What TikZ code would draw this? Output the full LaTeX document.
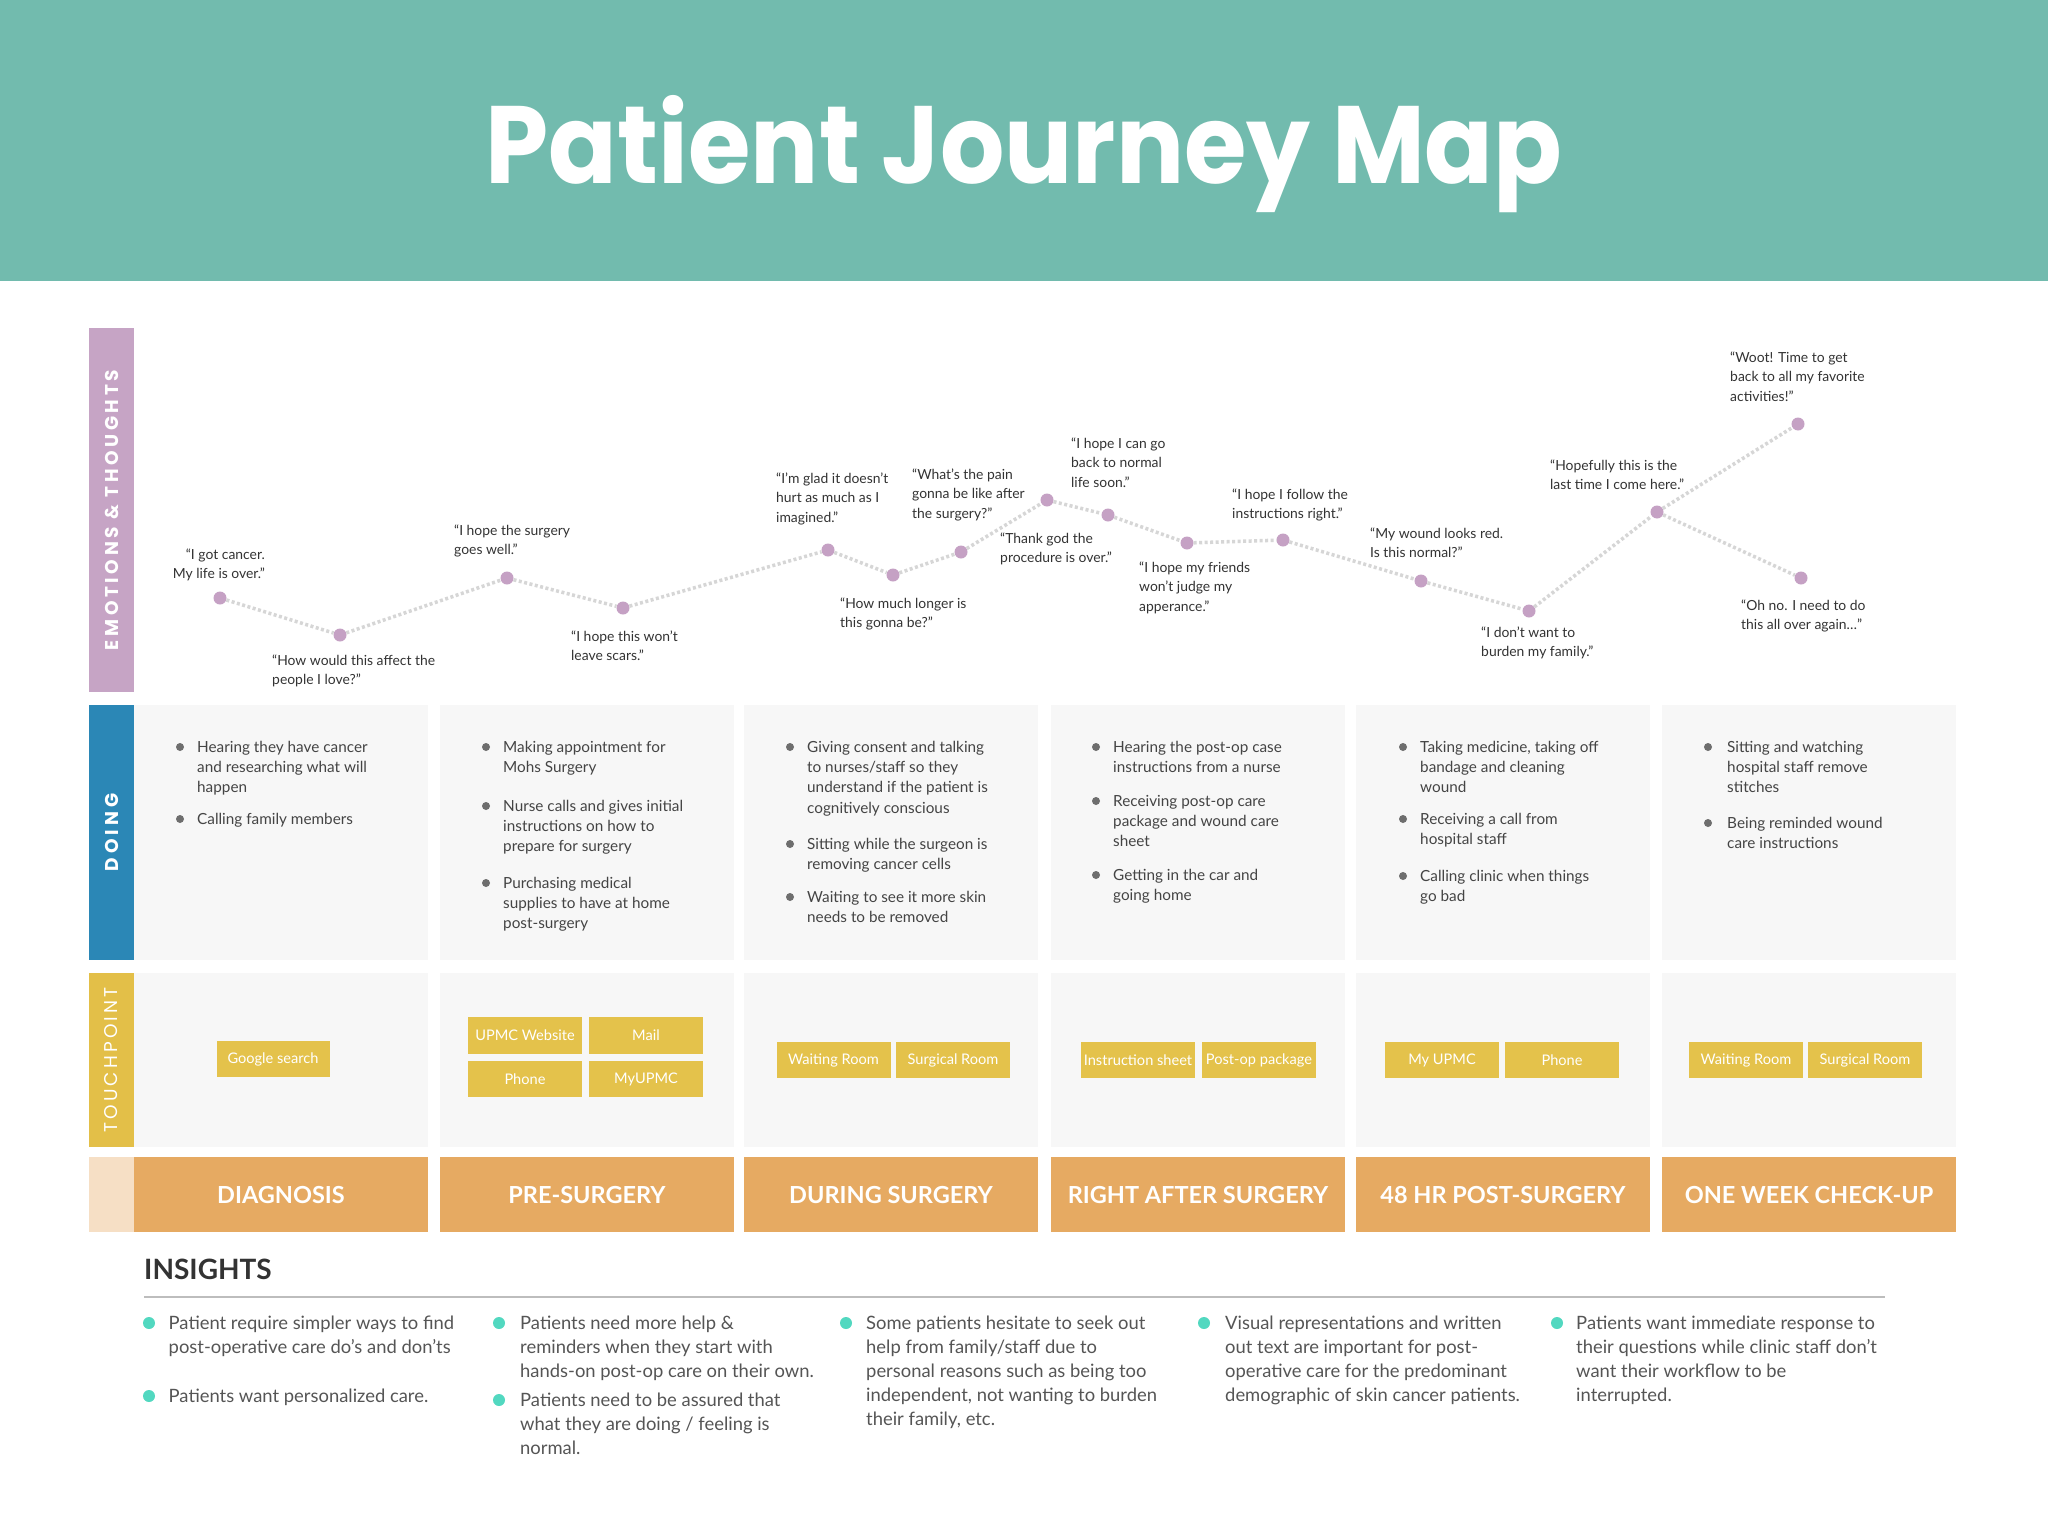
\documentclass[tikz,border=0pt]{standalone}
\usepackage{fontspec}
\setmainfont{Lato}
\newfontfamily\popfont{Poppins}
\definecolor{hdr}{HTML}{72BBAE}
\definecolor{emo}{HTML}{C6A4C5}
\definecolor{doi}{HTML}{2B87B6}
\definecolor{tch}{HTML}{E3BF48}
\definecolor{pale}{HTML}{F6DFC5}
\definecolor{phase}{HTML}{E6AA62}
\definecolor{cellg}{HTML}{F7F7F7}
\definecolor{tpy}{HTML}{E4C24B}
\definecolor{dotp}{HTML}{C5A1C4}
\definecolor{dline}{HTML}{D6D6D6}
\definecolor{tealb}{HTML}{52D8C0}
\definecolor{qtxt}{HTML}{333333}
\definecolor{dtxt}{HTML}{444444}
\definecolor{itxt}{HTML}{555555}
\definecolor{bulg}{HTML}{6E6E6E}
\definecolor{rulec}{HTML}{BDBDBD}
\newcommand{\qt}[1]{\begin{tabular}[t]{@{}l@{}}#1\end{tabular}}
\newcommand{\qtr}[1]{\begin{tabular}[t]{@{}r@{}}#1\end{tabular}}
\tikzset{
  rbox/.style={draw=none, inner sep=0pt, outer sep=0pt, anchor=north west},
  cellbox/.style={rbox, fill=cellg, minimum width=294pt},
  phasebox/.style={rbox, fill=phase, minimum width=294pt, minimum height=75pt},
  phasetxt/.style={text=white, font=\bfseries\fontsize{23.5}{26}\selectfont},
  barlbl/.style={rotate=90, text=white, inner sep=0pt},
  edot/.style={circle, fill=dotp, inner sep=0pt, minimum size=13pt},
  eline/.style={draw=dline, line width=3.5pt, dash pattern=on 3pt off 2.5pt},
  quote/.style={inner sep=0pt, text=qtxt, font=\fontsize{13.9}{19.5}\selectfont, anchor=base west},
  doing/.style={inner sep=0pt, text=dtxt, font=\fontsize{15.3}{20.4}\selectfont, anchor=base west},
  dbul/.style={circle, fill=bulg, inner sep=0pt, minimum size=8pt},
  tp/.style={fill=tpy, text=white, inner sep=0pt, minimum width=114pt, minimum height=36pt, font=\fontsize{14.6}{16}\selectfont},
  ins/.style={inner sep=0pt, text=itxt, font=\fontsize{18.4}{24.2}\selectfont, anchor=base west},
  ibul/.style={circle, fill=tealb, inner sep=0pt, minimum size=12pt}
}
\begin{document}
\begin{tikzpicture}[x=1pt, y=-1pt]
\useasboundingbox (0,0) rectangle (2048,1515);
\fill[white] (0,0) rectangle (2048,1515);
% header
\node[rbox, fill=hdr, minimum width=2048pt, minimum height=281pt] (header) at (0,0) {};
\node[text=white, anchor=base, inner sep=0pt, font={\popfont\bfseries\fontsize{110}{120}\selectfont}] (title) at (1024,183) {\scalebox{0.92}[1]{Patient Journey Map}};

% left label bars
\node[rbox, fill=emo, minimum width=45pt, minimum height=364pt] (lemo) at (89,328) {};
\node[barlbl, font={\popfont\bfseries\fontsize{18.5}{20}\selectfont\addfontfeatures{LetterSpace=19.5}}] (lemot) at (lemo.center) {EMOTIONS \& THOUGHTS};
\node[rbox, fill=doi, minimum width=45pt, minimum height=255pt] (ldo) at (89,705) {};
\node[barlbl, font={\popfont\bfseries\fontsize{18.5}{20}\selectfont\addfontfeatures{LetterSpace=22}}] (ldot) at (ldo.center) {DOING};
\node[rbox, fill=tch, minimum width=45pt, minimum height=174pt] (ltp) at (89,973) {};
\node[barlbl, font={\popfont\fontsize{18.5}{20}\selectfont\addfontfeatures{LetterSpace=17}}] (ltpt) at (ltp.center) {TOUCHPOINT};
\node[rbox, fill=pale, minimum width=45pt, minimum height=75pt] (lph) at (89,1157) {};

% doing cells
\node[cellbox, minimum height=255pt] (d1) at (134,705) {};
\node[cellbox, minimum height=255pt] (d2) at (440,705) {};
\node[cellbox, minimum height=255pt] (d3) at (744,705) {};
\node[cellbox, minimum height=255pt] (d4) at (1051,705) {};
\node[cellbox, minimum height=255pt] (d5) at (1356,705) {};
\node[cellbox, minimum height=255pt] (d6) at (1662,705) {};
% touchpoint cells
\node[cellbox, minimum height=174pt] (t1) at (134,973) {};
\node[cellbox, minimum height=174pt] (t2) at (440,973) {};
\node[cellbox, minimum height=174pt] (t3) at (744,973) {};
\node[cellbox, minimum height=174pt] (t4) at (1051,973) {};
\node[cellbox, minimum height=174pt] (t5) at (1356,973) {};
\node[cellbox, minimum height=174pt] (t6) at (1662,973) {};
% phase boxes
\node[phasebox] (p1) at (134,1157) {};
\node[phasebox] (p2) at (440,1157) {};
\node[phasebox] (p3) at (744,1157) {};
\node[phasebox] (p4) at (1051,1157) {};
\node[phasebox] (p5) at (1356,1157) {};
\node[phasebox] (p6) at (1662,1157) {};
\node[phasetxt] (p1t) at (p1.center) {DIAGNOSIS};
\node[phasetxt] (p2t) at (p2.center) {PRE-SURGERY};
\node[phasetxt] (p3t) at (p3.center) {DURING SURGERY};
\node[phasetxt] (p4t) at (p4.center) {RIGHT AFTER SURGERY};
\node[phasetxt] (p5t) at (p5.center) {48 HR POST-SURGERY};
\node[phasetxt] (p6t) at (p6.center) {ONE WEEK CHECK-UP};

% emotion points
\node[edot] (e1) at (220,598) {};
\node[edot] (e2) at (340,635) {};
\node[edot] (e3) at (507,578) {};
\node[edot] (e4) at (623,608) {};
\node[edot] (e5) at (828,550) {};
\node[edot] (e6) at (893,575) {};
\node[edot] (e7) at (961,552) {};
\node[edot] (e8) at (1047,500) {};
\node[edot] (e9) at (1108,515) {};
\node[edot] (e10) at (1187,543) {};
\node[edot] (e11) at (1283,540) {};
\node[edot] (e12) at (1421,581) {};
\node[edot] (e13) at (1529,611) {};
\node[edot] (e14) at (1657,512) {};
\node[edot] (e15) at (1798,424) {};
\node[edot] (e16) at (1801,578) {};
\draw[eline] (e1) -- (e2) -- (e3) -- (e4) -- (e5) -- (e6) -- (e7) -- (e8) -- (e9) -- (e10) -- (e11) -- (e12) -- (e13) -- (e14) -- (e15);
\draw[eline] (e14) -- (e16);

% quotes
\node[quote, anchor=base east] (q1) at (265,559) {\qtr{“I got cancer.\\My life is over.”}};
\node[quote] (q2) at (272,665) {\qt{“How would this affect the\\people I love?”}};
\node[quote] (q3) at (454,535) {\qt{“I hope the surgery\\goes well.”}};
\node[quote] (q4) at (571,641) {\qt{“I hope this won’t\\leave scars.”}};
\node[quote] (q5) at (776,483) {\qt{“I’m glad it doesn’t\\hurt as much as I\\imagined.”}};
\node[quote] (q6) at (840,608) {\qt{“How much longer is\\this gonna be?”}};
\node[quote] (q7) at (912,479) {\qt{“What’s the pain\\gonna be like after\\the surgery?”}};
\node[quote] (q8) at (1000,543) {\qt{“Thank god the\\procedure is over.”}};
\node[quote] (q9) at (1071,448) {\qt{“I hope I can go\\back to normal\\life soon.”}};
\node[quote] (q10) at (1139,572) {\qt{“I hope my friends\\won’t judge my\\apperance.”}};
\node[quote] (q11) at (1232,499) {\qt{“I hope I follow the\\instructions right.”}};
\node[quote] (q12) at (1370,538) {\qt{“My wound looks red.\\Is this normal?”}};
\node[quote] (q13) at (1481,637) {\qt{“I don’t want to\\burden my family.”}};
\node[quote] (q14) at (1550,470) {\qt{“Hopefully this is the\\last time I come here.”}};
\node[quote] (q15) at (1730,362) {\qt{“Woot! Time to get\\back to all my favorite\\activities!”}};
\node[quote] (q16) at (1741,610) {\qt{“Oh no. I need to do\\this all over again…”}};

% doing items
\node[dbul] (b11) at (180,747) {};
\node[doing] (x11) at (197,752) {\qt{Hearing they have cancer\\and researching what will\\happen}};
\node[dbul] (b12) at (180,819) {};
\node[doing] (x12) at (197,824) {\qt{Calling family members}};
\node[dbul] (b21) at (486,747) {};
\node[doing] (x21) at (503,752) {\qt{Making appointment for\\Mohs Surgery}};
\node[dbul] (b22) at (486,806) {};
\node[doing] (x22) at (503,811) {\qt{Nurse calls and gives initial\\instructions on how to\\prepare for surgery}};
\node[dbul] (b23) at (486,883) {};
\node[doing] (x23) at (503,888) {\qt{Purchasing medical\\supplies to have at home\\post-surgery}};
\node[dbul] (b31) at (790,747) {};
\node[doing] (x31) at (807,752) {\qt{Giving consent and talking\\to nurses/staff so they\\understand if the patient is\\cognitively conscious}};
\node[dbul] (b32) at (790,844) {};
\node[doing] (x32) at (807,849) {\qt{Sitting while the surgeon is\\removing cancer cells}};
\node[dbul] (b33) at (790,897) {};
\node[doing] (x33) at (807,902) {\qt{Waiting to see it more skin\\needs to be removed}};
\node[dbul] (b41) at (1096,747) {};
\node[doing] (x41) at (1113,752) {\qt{Hearing the post-op case\\instructions from a nurse}};
\node[dbul] (b42) at (1096,801) {};
\node[doing] (x42) at (1113,806) {\qt{Receiving post-op care\\package and wound care\\sheet}};
\node[dbul] (b43) at (1096,875) {};
\node[doing] (x43) at (1113,880) {\qt{Getting in the car and\\going home}};
\node[dbul] (b51) at (1403,747) {};
\node[doing] (x51) at (1420,752) {\qt{Taking medicine, taking off\\bandage and cleaning\\wound}};
\node[dbul] (b52) at (1403,819) {};
\node[doing] (x52) at (1420,824) {\qt{Receiving a call from\\hospital staff}};
\node[dbul] (b53) at (1403,876) {};
\node[doing] (x53) at (1420,881) {\qt{Calling clinic when things\\go bad}};
\node[dbul] (b61) at (1708,747) {};
\node[doing] (x61) at (1727,752) {\qt{Sitting and watching\\hospital staff remove\\stitches}};
\node[dbul] (b62) at (1708,823) {};
\node[doing] (x62) at (1727,828) {\qt{Being reminded wound\\care instructions}};

% touchpoints
\node[tp, minimum width=113pt] (g1) at (273,1059) {Google search};
\node[tp, minimum height=37pt] (u1) at (525,1035.5) {UPMC Website};
\node[tp, minimum height=37pt] (u2) at (646,1035.5) {Mail};
\node[tp] (u3) at (525,1079) {Phone};
\node[tp] (u4) at (646,1079) {MyUPMC};
\node[tp] (w3a) at (833.5,1060) {Waiting Room};
\node[tp] (w3b) at (953,1060) {Surgical Room};
\node[tp] (w4a) at (1138,1060) {Instruction sheet};
\node[tp] (w4b) at (1259,1060) {Post-op package};
\node[tp] (w5a) at (1442,1060) {My UPMC};
\node[tp] (w5b) at (1562,1060) {Phone};
\node[tp] (w6a) at (1746,1060) {Waiting Room};
\node[tp] (w6b) at (1865,1060) {Surgical Room};

% insights
\node[anchor=base west, inner sep=0pt, text=qtxt, font=\bfseries\fontsize{28}{30}\selectfont] (insh) at (144,1279) {INSIGHTS};
\coordinate (rl) at (144,1297);
\coordinate (rr) at (1885,1297);
\draw[rulec, line width=2pt] (rl) -- (rr);
\node[ibul] (i11) at (149,1323) {};
\node[ins] (j11) at (168.5,1329) {\qt{Patient require simpler ways to find\\post-operative care do’s and don’ts}};
\node[ibul] (i12) at (149,1396) {};
\node[ins] (j12) at (168.5,1402) {\qt{Patients want personalized care.}};
\node[ibul] (i21) at (499,1323) {};
\node[ins] (j21) at (520,1329) {\qt{Patients need more help \&\\reminders when they start with\\hands-on post-op care on their own.}};
\node[ibul] (i22) at (499,1400) {};
\node[ins] (j22) at (520,1406) {\qt{Patients need to be assured that\\what they are doing / feeling is\\normal.}};
\node[ibul] (i31) at (846,1323) {};
\node[ins] (j31) at (866,1329) {\qt{Some patients hesitate to seek out\\help from family/staff due to\\personal reasons such as being too\\independent, not wanting to burden\\their family, etc.}};
\node[ibul] (i41) at (1204,1323) {};
\node[ins] (j41) at (1225,1329) {\qt{Visual representations and written\\out text are important for post-\\operative care for the predominant\\demographic of skin cancer patients.}};
\node[ibul] (i51) at (1557,1323) {};
\node[ins] (j51) at (1576,1329) {\qt{Patients want immediate response to\\their questions while clinic staff don’t\\want their workflow to be\\interrupted.}};
\end{tikzpicture}
\end{document}
